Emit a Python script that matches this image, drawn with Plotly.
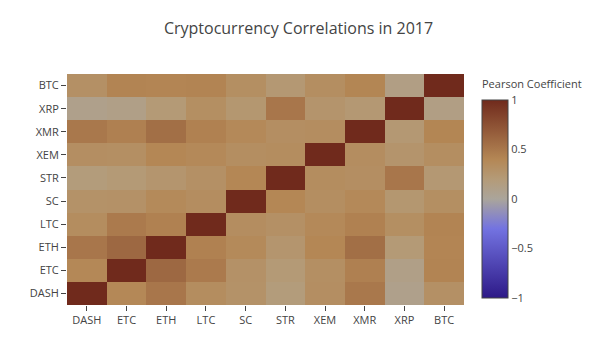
import plotly.graph_objects as go

coins = ["DASH", "ETC", "ETH", "LTC", "SC", "STR", "XEM", "XMR", "XRP", "BTC"]

dash = [1.000, 0.388, 0.507, 0.340, 0.291, 0.183, 0.326, 0.498, 0.091, 0.307]
etc = [0.388, 1.000, 0.601, 0.482, 0.298, 0.210, 0.322, 0.447, 0.115, 0.417]
eth = [0.507, 0.601, 1.000, 0.438, 0.373, 0.259, 0.399, 0.555, 0.212, 0.411]
ltc = [0.340, 0.482, 0.438, 1.000, 0.339, 0.308, 0.379, 0.437, 0.324, 0.421]
sc = [0.291, 0.298, 0.373, 0.339, 1.000, 0.403, 0.331, 0.379, 0.244, 0.325]
stra = [0.183, 0.210, 0.259, 0.308, 0.403, 1.000, 0.340, 0.327, 0.510, 0.231]
xem = [0.326, 0.322, 0.399, 0.379, 0.331, 0.340, 1.000, 0.336, 0.268, 0.329]
xmr = [0.498, 0.447, 0.555, 0.437, 0.379, 0.327, 0.336, 1.000, 0.227, 0.409]
xrp = [0.091, 0.115, 0.212, 0.324, 0.244, 0.510, 0.268, 0.227, 1.000, 0.131]
btc = [0.307, 0.417, 0.411, 0.421, 0.325, 0.231, 0.329, 0.409, 0.131, 1.000]

z = [dash, etc, eth, ltc, sc, stra, xem, xmr, xrp, btc]

colorscale = [
    [0.0, "rgb(45,25,135)"],
    [0.35, "rgb(115,115,225)"],
    [0.5, "rgb(170,165,155)"],
    [0.6, "rgb(180,155,120)"],
    [0.7, "rgb(180,135,85)"],
    [1.0, "rgb(112,42,28)"],
]

fig = go.Figure(go.Heatmap(
    z=z, x=coins, y=coins,
    zmin=-1, zmax=1,
    colorscale=colorscale,
    colorbar=dict(
        thickness=26, outlinewidth=1, outlinecolor="#444",
        tickvals=[-1, -0.5, 0, 0.5, 1], ticktext=["\u22121", "\u22120.5", "0", "0.5", "1"],
        tickfont=dict(size=11, color="#444"),
        ticks="", x=1.0, xanchor="left", xpad=18,
        lenmode="pixels", len=198, y=0.459, yanchor="middle", ypad=0,
    ),
))

fig.update_layout(
    width=597, height=351,
    margin=dict(l=67, r=133, t=74, b=46),
    title=dict(text="Cryptocurrency Correlations in 2017", x=0.5, xanchor="center",
               y=0.92, yanchor="middle", font=dict(size=16, color="#444")),
    font=dict(family="Open Sans, Verdana, Arial, sans-serif", size=11, color="#444"),
    paper_bgcolor="white", plot_bgcolor="white",
    xaxis=dict(ticks="outside", ticklen=5, tickcolor="#444", showgrid=False, zeroline=False),
    yaxis=dict(ticks="outside", ticklen=5, tickcolor="#444", showgrid=False, zeroline=False),
    annotations=[dict(
        text="Pearson Coefficient", xref="paper", yref="paper",
        x=1.040, y=0.960, xanchor="left", yanchor="middle", showarrow=False,
        font=dict(size=11, color="#444"),
    )],
)

fig.write_html("out.html")
